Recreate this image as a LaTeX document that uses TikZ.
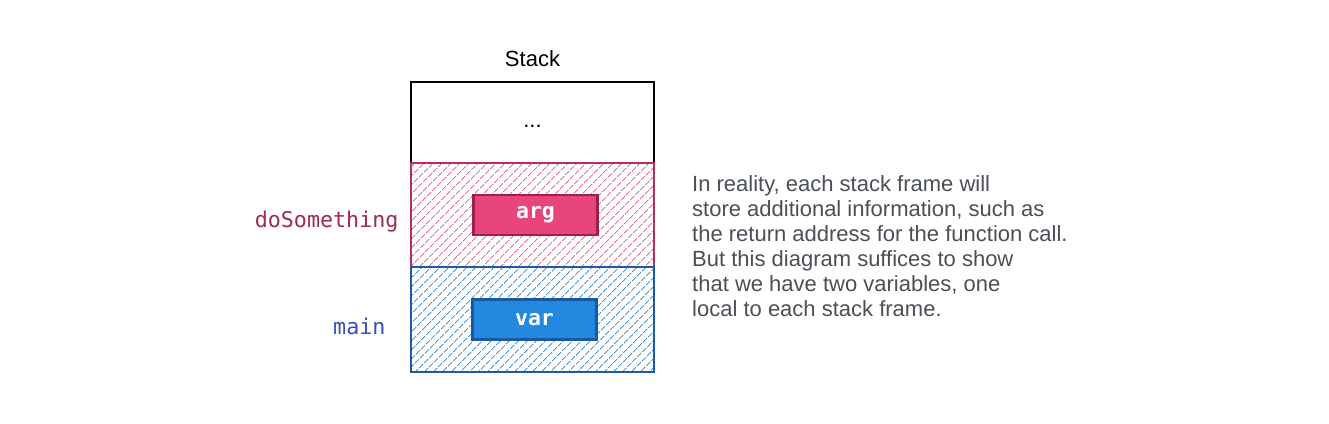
\documentclass[tikz,border=0pt]{standalone}
\usepackage{fontspec}
\setmainfont{Liberation Sans}
\setmonofont{DejaVu Sans Mono}
\usetikzlibrary{patterns.meta,positioning}
\definecolor{pinkline}{RGB}{180,48,92}
\definecolor{pinkhatch}{RGB}{222,110,148}
\definecolor{pinkfill}{RGB}{232,70,122}
\definecolor{pinkedge}{RGB}{158,30,78}
\definecolor{pinkname}{RGB}{160,40,90}
\definecolor{blueline}{RGB}{30,88,168}
\definecolor{bluehatch}{RGB}{66,146,222}
\definecolor{bluefill}{RGB}{34,136,224}
\definecolor{blueedge}{RGB}{26,88,160}
\definecolor{bluename}{RGB}{56,76,190}
\definecolor{notegray}{RGB}{74,80,87}
\begin{document}
\begin{tikzpicture}[x=1pt, y=-1pt,
  stackcell/.style={draw, line width=1.5pt, minimum width=243pt, inner sep=0pt, outer sep=0pt},
  varbox/.style={draw, line width=2.5pt, minimum width=124pt, minimum height=40pt,
    text=white, font=\fontsize{21.5}{21.5}\selectfont\ttfamily\bfseries},
  framename/.style={font=\fontsize{21.7}{21.7}\selectfont\ttfamily},
  sanstext/.style={font=\fontsize{22}{25}\selectfont}]
\useasboundingbox[fill=white] (0,0) rectangle (1329,423);
% stack cells
\node [stackcell, minimum height=81pt] (top) at (532.5,122.5) {};
\node [sanstext] (dots) at ([yshift=-4pt]top.center) {...};
\node [sanstext, above=12pt of top] (title) {Stack};
\node [stackcell, minimum height=104pt, below=0pt of top, draw=pinkline,
  pattern={Lines[angle=45, distance=6.5pt, line width=1pt]}, pattern color=pinkhatch] (dosth) {};
\node [stackcell, minimum height=105pt, below=0pt of dosth, draw=blueline,
  pattern={Lines[angle=45, distance=6.5pt, line width=1pt]}, pattern color=bluehatch] (mainf) {};
% variables
\node [varbox, fill=pinkfill, draw=pinkedge] (arg) at ([xshift=3pt]dosth.center) {arg};
\node [varbox, fill=bluefill, draw=blueedge] (var) at ([xshift=2pt]mainf.center) {var};
% frame names
\node [framename, text=pinkname, left=9pt of dosth.west, yshift=-7pt] (dosthname) {doSomething};
\node [framename, text=bluename, left=22pt of mainf.west, yshift=-7pt] (mainname) {main};
% note
\node [sanstext, text=notegray, align=left, anchor=north west, inner sep=0pt] (note) at (692,175)
  {In reality, each stack frame will\\
   store additional information, such as\\
   the return address for the function call.\\
   But this diagram suffices to show\\
   that we have two variables, one\\
   local to each stack frame.};
\end{tikzpicture}
\end{document}
